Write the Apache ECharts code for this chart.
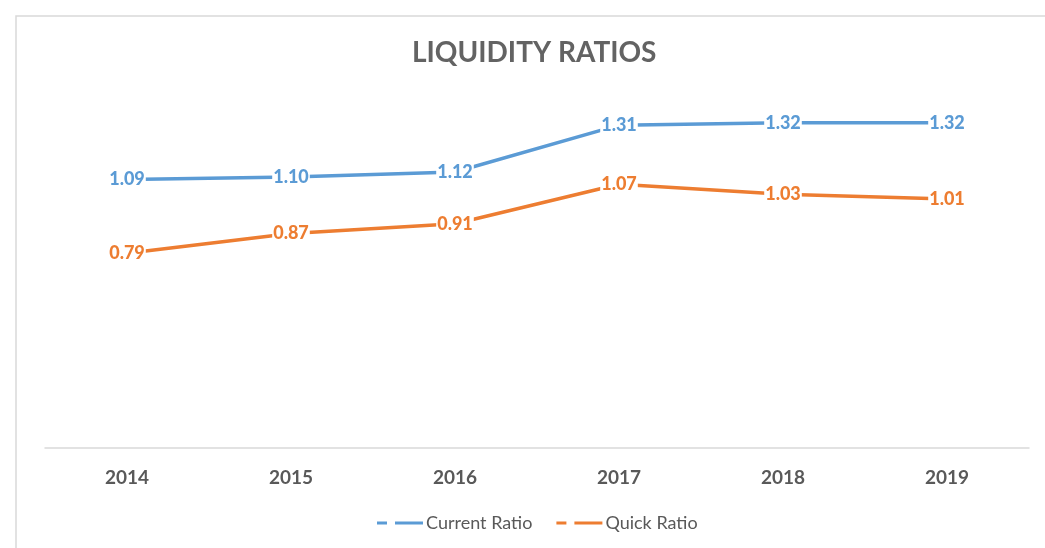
<!DOCTYPE html>
<html>
  <head>
    <meta http-equiv="Content-Type" content="text/html; charset=utf-8" />
    <script src="https://cdn.jsdelivr.net/npm/echarts@6/dist/echarts.min.js"></script>
  </head>
  <body style="margin:0">
    <div id="main" style="width: 1045px;height:548px;"></div>
    <script type="text/javascript">
var years = ['2014', '2015', '2016', '2017', '2018', '2019'];
var currentRatio = [1.09, 1.10, 1.12, 1.31, 1.32, 1.32];
var quickRatio = [0.79, 0.87, 0.91, 1.07, 1.03, 1.01];

var myChart = echarts.init(document.getElementById('main'));
var font = 'Lato, "Open Sans", sans-serif';
// legend marker: short dash + long dash like the Excel legend
var dashIcon = 'path://M0,0 L10,0 L10,3 L0,3 Z M18,0 L46,0 L46,3 L18,3 Z';

function lineSeries(name, data, color) {
    return {
        name: name,
        type: 'line',
        data: data,
        symbol: 'circle',
        symbolSize: 0,
        showSymbol: true,
        lineStyle: { color: color, width: 3.5 },
        itemStyle: { color: color },
        label: {
            show: true,
            position: 'inside',
            formatter: function (p) { return p.value.toFixed(2); },
            color: color,
            fontFamily: font,
            fontWeight: 900,
            fontSize: 18,
            backgroundColor: '#fff',
            padding: [0, 1]
        }
    };
}

var option = {
    backgroundColor: '#fff',
    graphic: [{
        type: 'rect',
        shape: { x: 16, y: 16, width: 1100, height: 600 },
        style: { fill: 'none', stroke: '#d9d9d9', lineWidth: 1.5 },
        silent: true
    }],
    title: {
        text: 'LIQUIDITY RATIOS',
        left: 407,
        top: 34,
        textStyle: { fontFamily: font, fontWeight: 'bold', fontSize: 28, color: '#636363' }
    },
    legend: {
        bottom: 11,
        left: 372,
        itemWidth: 46,
        itemHeight: 3,
        itemGap: 24,
        textStyle: { fontFamily: font, fontSize: 18, color: '#595959', padding: [0, 0, 0, -2] },
        data: [
            { name: 'Current Ratio', icon: dashIcon },
            { name: 'Quick Ratio', icon: dashIcon }
        ]
    },
    grid: { left: 45, right: 16, top: 103, bottom: 100 },
    xAxis: {
        type: 'category',
        data: years,
        axisLine: { lineStyle: { color: '#d9d9d9', width: 1.5 } },
        axisTick: { show: false },
        axisLabel: { margin: 20, fontFamily: font, fontWeight: 'bold', fontSize: 19, color: '#595959' }
    },
    yAxis: {
        type: 'value',
        min: 0,
        max: 1.4,
        show: false,
        splitLine: { show: false }
    },
    series: [
        lineSeries('Current Ratio', currentRatio, '#5b9bd5'),
        lineSeries('Quick Ratio', quickRatio, '#ed7d31')
    ]
};

myChart.setOption(option);
    </script>
  </body>
</html>
